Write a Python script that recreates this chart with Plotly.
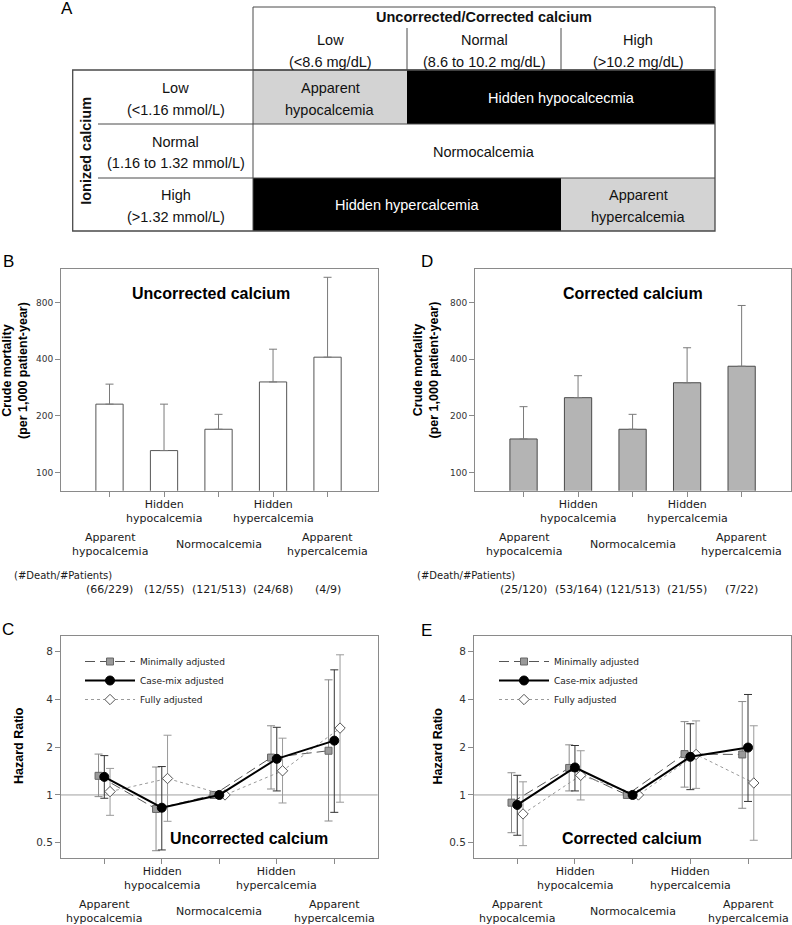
import plotly.graph_objects as go

W, H = 792, 925

# ---------------- data ----------------
CATEGORIES = ["Apparent hypocalcemia", "Hidden hypocalcemia", "Normocalcemia",
              "Hidden hypercalcemia", "Apparent hypercalcemia"]

# Panel B - uncorrected calcium: crude mortality (per 1,000 patient-year)
MORT_UNCORR = [231, 131, 170, 303, 410]
MORT_UNCORR_UPPER = [295, 231, 204, 452, 1088]
DEATHS_UNCORR = [66, 12, 121, 24, 4]
PATIENTS_UNCORR = [229, 55, 513, 68, 9]

# Panel D - corrected calcium
MORT_CORR = [151, 250, 170, 300, 367]
MORT_CORR_UPPER = [224, 327, 204, 460, 771]
DEATHS_CORR = [25, 53, 121, 21, 7]
PATIENTS_CORR = [120, 164, 513, 55, 22]

MORT_TICKS = [100, 200, 400, 800]

SERIES = ["Minimally adjusted", "Case-mix adjusted", "Fully adjusted"]

# Panel C - uncorrected calcium hazard ratios (None = reference group, no CI)
HR_MIN_UNCORR = [1.32, 0.816, 1.0, 1.72, 1.90]
HR_MIN_UNCORR_LO = [0.976, 0.445, None, 1.09, 0.685]
HR_MIN_UNCORR_HI = [1.81, 1.50, None, 2.73, 5.32]
HR_CASE_UNCORR = [1.30, 0.831, 1.0, 1.69, 2.20]
HR_CASE_UNCORR_LO = [0.953, 0.45, None, 1.06, 0.777]
HR_CASE_UNCORR_HI = [1.77, 1.51, None, 2.67, 6.15]
HR_FULL_UNCORR = [1.05, 1.27, 1.0, 1.42, 2.64]
HR_FULL_UNCORR_LO = [0.744, 0.682, None, 0.89, 0.90]
HR_FULL_UNCORR_HI = [1.47, 2.38, None, 2.28, 7.65]

# Panel E - corrected calcium hazard ratios
HR_MIN_CORR = [0.894, 1.48, 1.0, 1.81, 1.80]
HR_MIN_CORR_LO = [0.578, 1.06, None, 1.12, 0.824]
HR_MIN_CORR_HI = [1.38, 2.07, None, 2.90, 3.88]
HR_CASE_CORR = [0.865, 1.49, 1.0, 1.74, 1.99]
HR_CASE_CORR_LO = [0.557, 1.06, None, 1.08, 0.91]
HR_CASE_CORR_HI = [1.33, 2.05, None, 2.81, 4.30]
HR_FULL_CORR = [0.759, 1.33, 1.0, 1.80, 1.19]
HR_FULL_CORR_LO = [0.479, 0.93, None, 1.10, 0.518]
HR_FULL_CORR_HI = [1.21, 1.90, None, 2.93, 2.73]

HR_TICKS = [0.5, 1, 2, 4, 8]
HR_TICKTEXT = ["0.5", "1", "2", "4", "8"]
REF_HR = 1

# Panel A - classification table
TABLE_TITLE = "Uncorrected/Corrected calcium"
TABLE_COL_LEVELS = ["Low", "Normal", "High"]
TABLE_COL_RANGES = ["(&lt;8.6 mg/dL)", "(8.6 to 10.2 mg/dL)", "(&gt;10.2 mg/dL)"]
TABLE_ROW_TITLE = "Ionized calcium"
TABLE_ROW_LEVELS = ["Low", "Normal", "High"]
TABLE_ROW_RANGES = ["(&lt;1.16 mmol/L)", "(1.16 to 1.32 mmol/L)", "(&gt;1.32 mmol/L)"]
# (row, first col, last col exclusive, text, kind)
TABLE_CELLS = [
    (0, 0, 1, "Apparent<br>hypocalcemia", "apparent"),
    (0, 1, 3, "Hidden hypocalcecmia", "hidden"),
    (1, 0, 3, "Normocalcemia", "normal"),
    (2, 0, 2, "Hidden hypercalcemia", "hidden"),
    (2, 2, 3, "Apparent<br>hypercalcemia", "apparent"),
]

# ---------------- styles / layout geometry ----------------
CHART_FONT = "DejaVu Sans"
SANS = "Liberation Sans"
AXIS_GREY = "#8a8a8a"
TXT = "#1a1a1a"
OFFSETS = [-0.1, 0.0, 0.1]


def px_x(px):
    return px / W


def px_y(py):
    return 1 - py / H


# panel boxes in pixels: (x0, x1), (ytop, ybottom)
BOX = {
    "B": ((61, 377.7), (269.3, 490.7)),
    "D": ((475, 790.7), (269.3, 490.7)),
    "C": ((61, 377.7), (636, 857.5)),
    "E": ((474, 790.7), (636, 857.5)),
}
AXES = {"B": ("x", "y"), "D": ("x2", "y2"), "C": ("x3", "y3"), "E": ("x4", "y4")}
XRANGE = {"B": [-0.89, 4.92], "D": [-0.89, 4.90], "C": [-0.753, 4.755], "E": [-0.75, 4.74]}
MORT_RANGE = [1.9045, 3.079]
HR_RANGE = [-0.3944, 1.0022]

fig = go.Figure()

# ---------------- bar panels ----------------
idx = list(range(len(CATEGORIES)))
for key, vals, upper, fill, edge in [
    ("B", MORT_UNCORR, MORT_UNCORR_UPPER, "white", "#555555"),
    ("D", MORT_CORR, MORT_CORR_UPPER, "#b4b4b4", "#4a4a4a"),
]:
    xa, ya = AXES[key]
    fig.add_trace(go.Bar(
        x=idx, y=vals, width=0.5, xaxis=xa, yaxis=ya, showlegend=False,
        marker=dict(color=fill, line=dict(color=edge, width=1)),
        error_y=dict(type="data", symmetric=False,
                     array=[u - v for u, v in zip(upper, vals)],
                     arrayminus=[0] * len(vals),
                     color="#7a7a7a", thickness=1, width=4),
        hovertext=CATEGORIES,
    ))

# ---------------- hazard ratio panels ----------------
STYLE = [
    dict(line=dict(color="#555555", width=1, dash="10px,5px"),
         marker=dict(symbol="square", size=7, color="#9a9a9a", line=dict(color="#666666", width=1)),
         err="#8a8a8a", rank=1),
    dict(line=dict(color="black", width=2),
         marker=dict(symbol="circle", size=9, color="black", line=dict(color="black", width=1)),
         err="#333333", rank=2),
    dict(line=dict(color="#9a9a9a", width=1, dash="dot"),
         marker=dict(symbol="diamond", size=8, color="white", line=dict(color="#555555", width=1)),
         err="#9a9a9a", rank=3),
]


def err_plus(v, hi):
    return [None if h is None else h - x for x, h in zip(v, hi)]


def err_minus(v, lo):
    return [None if l is None else x - l for x, l in zip(v, lo)]


for key, legend_name, series in [
    ("C", "legend", [(HR_MIN_UNCORR, HR_MIN_UNCORR_LO, HR_MIN_UNCORR_HI),
                     (HR_CASE_UNCORR, HR_CASE_UNCORR_LO, HR_CASE_UNCORR_HI),
                     (HR_FULL_UNCORR, HR_FULL_UNCORR_LO, HR_FULL_UNCORR_HI)]),
    ("E", "legend2", [(HR_MIN_CORR, HR_MIN_CORR_LO, HR_MIN_CORR_HI),
                      (HR_CASE_CORR, HR_CASE_CORR_LO, HR_CASE_CORR_HI),
                      (HR_FULL_CORR, HR_FULL_CORR_LO, HR_FULL_CORR_HI)]),
]:
    xa, ya = AXES[key]
    for k in [0, 2, 1]:  # draw case-mix on top
        vals, lo, hi = series[k]
        st = STYLE[k]
        fig.add_trace(go.Scatter(
            x=[i + OFFSETS[k] for i in idx], y=vals, mode="lines+markers",
            name=SERIES[k], legend=legend_name, legendrank=st["rank"],
            xaxis=xa, yaxis=ya, line=st["line"], marker=st["marker"],
            error_y=dict(type="data", symmetric=False, array=err_plus(vals, hi),
                         arrayminus=err_minus(vals, lo), color=st["err"],
                         thickness=1, width=4),
            hovertext=CATEGORIES,
        ))

# ---------------- axes ----------------
layout_axes = {}
for key, (xa, ya) in AXES.items():
    (x0, x1), (yt, yb) = BOX[key]
    xname = "xaxis" if xa == "x" else "xaxis" + xa[1:]
    yname = "yaxis" if ya == "y" else "yaxis" + ya[1:]
    layout_axes[xname] = dict(
        domain=[px_x(x0), px_x(x1)], range=XRANGE[key], anchor=ya,
        tickmode="array", tickvals=idx, showticklabels=False,
        ticks="outside", ticklen=5, tickcolor=AXIS_GREY,
        showline=True, linecolor=AXIS_GREY, linewidth=1, mirror=True,
        showgrid=False, zeroline=False, automargin=False, fixedrange=True)
    is_bar = key in ("B", "D")
    layout_axes[yname] = dict(
        domain=[px_y(yb), px_y(yt)], type="log", anchor=xa,
        range=MORT_RANGE if is_bar else HR_RANGE,
        tickmode="array", tickvals=MORT_TICKS if is_bar else HR_TICKS,
        ticktext=[str(t) for t in MORT_TICKS] if is_bar else HR_TICKTEXT,
        tickfont=dict(family=CHART_FONT, size=9 if is_bar else 10.5, color="#333"),
        ticks="outside", ticklen=5, tickcolor=AXIS_GREY,
        showline=True, linecolor=AXIS_GREY, linewidth=1, mirror=True,
        showgrid=False, zeroline=False, automargin=False, fixedrange=True)

shapes = []
annotations = []

# reference line HR = 1
for key in ("C", "E"):
    xa, ya = AXES[key]
    shapes.append(dict(type="line", xref=f"{xa} domain", x0=0, x1=1, yref=ya,
                       y0=REF_HR, y1=REF_HR, line=dict(color="#a0a0a0", width=1), layer="below"))

# category labels (staggered) and counts
for key in ("B", "D", "C", "E"):
    xa, ya = AXES[key]
    for i, cat in enumerate(CATEGORIES):
        shift = 21 if i % 2 == 1 else 54
        annotations.append(dict(
            text=cat.replace(" ", "<br>"), xref=xa, x=i, yref=f"{ya} domain", y=0,
            yshift=-shift, yanchor="middle", xanchor="center", showarrow=False,
            font=dict(family=CHART_FONT, size=11, color=TXT)))

for key, deaths, patients in [("B", DEATHS_UNCORR, PATIENTS_UNCORR), ("D", DEATHS_CORR, PATIENTS_CORR)]:
    xa, ya = AXES[key]
    for i, (d, p) in enumerate(zip(deaths, patients)):
        annotations.append(dict(
            text=f"({d}/{p})", xref=xa, x=i, yref=f"{ya} domain", y=0, yshift=-98.5,
            yanchor="middle", xanchor="center", showarrow=False,
            font=dict(family=CHART_FONT, size=11, color=TXT)))

for xpx in (12, 415):
    annotations.append(dict(text="(#Death/#Patients)", xref="paper", x=px_x(xpx), xanchor="left",
                            yref="paper", y=px_y(575), yanchor="middle", showarrow=False,
                            font=dict(family=CHART_FONT, size=10, color=TXT)))

# panel titles inside the plots
for key, text, xd, yd in [("B", "Uncorrected calcium", 0.473, 0.892),
                          ("D", "Corrected calcium", 0.499, 0.892),
                          ("C", "Uncorrected calcium", 0.594, 0.087),
                          ("E", "Corrected calcium", 0.5, 0.087)]:
    xa, ya = AXES[key]
    annotations.append(dict(text=f"<b>{text}</b>", xref=f"{xa} domain", x=xd, yref=f"{ya} domain", y=yd,
                            xanchor="center", yanchor="middle", showarrow=False,
                            font=dict(family=SANS, size=16, color="black")))

# y axis titles
for xpx, ypx, text in [(14.5, 370.5, "Crude mortality<br>(per 1,000 patient-year)"),
                       (425, 370.5, "Crude mortality<br>(per 1,000 patient-year)"),
                       (19, 746, "Hazard Ratio"),
                       (437.5, 746, "Hazard Ratio")]:
    annotations.append(dict(text=text, xref="paper", x=px_x(xpx), yref="paper", y=px_y(ypx),
                            xanchor="center", yanchor="middle", textangle=-90, showarrow=False,
                            font=dict(family=SANS, size=12.5, color="black", weight="bold")))

# panel letters
for letter, xpx, ypx in [("A", 67, 8), ("B", 8, 261), ("D", 427, 261), ("C", 8, 629), ("E", 426, 630)]:
    annotations.append(dict(text=letter, xref="paper", x=px_x(xpx), yref="paper", y=px_y(ypx),
                            xanchor="center", yanchor="middle", showarrow=False,
                            font=dict(family=SANS, size=17, color="black")))

# ---------------- panel A table ----------------
COL_EDGES = [253, 407, 561, 715]
ROW_EDGES = [70, 124, 178, 231]
HEADER_TOP, HEADER_SPLIT = 7, 28
LABEL_LEFT, LABEL_RIGHT = 72.7, 98
LINE_GAP = 11
TFONT = 14.5
FILL = {"apparent": "#d3d3d3", "hidden": "black", "normal": "white"}
TEXTC = {"apparent": "#111", "hidden": "white", "normal": "#111"}
EDGE = "#4a4a4a"


def rect(x0, y0, x1, y1, fill=None, width=1):
    return dict(type="rect", xref="paper", yref="paper", x0=px_x(x0), x1=px_x(x1),
                y0=px_y(y1), y1=px_y(y0), fillcolor=fill if fill else "rgba(0,0,0,0)",
                line=dict(color=EDGE, width=width))


def hline(x0, x1, y):
    return dict(type="line", xref="paper", yref="paper", x0=px_x(x0), x1=px_x(x1),
                y0=px_y(y), y1=px_y(y), line=dict(color=EDGE, width=1))


def vline(x, y0, y1):
    return dict(type="line", xref="paper", yref="paper", x0=px_x(x), x1=px_x(x),
                y0=px_y(y0), y1=px_y(y1), line=dict(color=EDGE, width=1))


def cell_text(lines, xc, yc, color="#111", bold=False):
    n = len(lines)
    for j, ln in enumerate(lines):
        yy = yc + (j - (n - 1) / 2) * 2 * LINE_GAP if n > 1 else yc
        annotations.append(dict(text=f"<b>{ln}</b>" if bold else ln, xref="paper", yref="paper",
                                x=px_x(xc), y=px_y(yy), xanchor="center", yanchor="middle",
                                showarrow=False, font=dict(family=SANS, size=TFONT, color=color)))


for (r, c0, c1, text, kind) in TABLE_CELLS:
    shapes.append(rect(COL_EDGES[c0], ROW_EDGES[r], COL_EDGES[c1], ROW_EDGES[r + 1],
                       fill=FILL[kind], width=0))
    cy = (ROW_EDGES[r] + ROW_EDGES[r + 1]) / 2 + (1.5 if "<br>" in text else 0.5)
    cell_text(text.split("<br>"), (COL_EDGES[c0] + COL_EDGES[c1]) / 2, cy, TEXTC[kind])

shapes.append(rect(COL_EDGES[0], HEADER_TOP, COL_EDGES[-1], ROW_EDGES[0]))
for x in COL_EDGES[1:-1]:
    shapes.append(vline(x, HEADER_SPLIT, ROW_EDGES[0]))
shapes.append(rect(LABEL_LEFT, ROW_EDGES[0], COL_EDGES[-1], ROW_EDGES[-1], width=1.3))
for y in ROW_EDGES[1:-1]:
    shapes.append(hline(LABEL_RIGHT, COL_EDGES[-1], y))
shapes.append(vline(COL_EDGES[0], ROW_EDGES[0], ROW_EDGES[-1]))

cell_text([TABLE_TITLE], (COL_EDGES[0] + COL_EDGES[-1]) / 2, 17, bold=True)
for j in range(3):
    cell_text([TABLE_COL_LEVELS[j], TABLE_COL_RANGES[j]],
              (COL_EDGES[j] + COL_EDGES[j + 1]) / 2, (HEADER_SPLIT + ROW_EDGES[0]) / 2 + 2)
    cell_text([TABLE_ROW_LEVELS[j], TABLE_ROW_RANGES[j]],
              (LABEL_RIGHT + COL_EDGES[0]) / 2, (ROW_EDGES[j] + ROW_EDGES[j + 1]) / 2 + 1.5)
annotations.append(dict(text=f"<b>{TABLE_ROW_TITLE}</b>", xref="paper", yref="paper",
                        x=px_x((LABEL_LEFT + LABEL_RIGHT) / 2), y=px_y((ROW_EDGES[0] + ROW_EDGES[-1]) / 2),
                        xanchor="center", yanchor="middle", textangle=-90, showarrow=False,
                        font=dict(family=SANS, size=TFONT, color="#111")))

LEG = dict(yanchor="top", xanchor="left", bgcolor="rgba(0,0,0,0)", borderwidth=0,
           font=dict(family=CHART_FONT, size=9, color="#222"), itemwidth=50,
           tracegroupgap=0, traceorder="normal")

fig.update_layout(
    width=W, height=H, template="none",
    margin=dict(l=0, r=0, t=0, b=0, autoexpand=False),
    paper_bgcolor="white", plot_bgcolor="white",
    font=dict(family=CHART_FONT, size=11, color=TXT),
    bargap=0.5,
    legend=dict(x=px_x(80), y=px_y(647), **LEG),
    legend2=dict(x=px_x(494), y=px_y(647), **LEG),
    shapes=shapes, annotations=annotations,
    **layout_axes,
)

fig.write_html("out.html", config={"displayModeBar": False},
               post_script="document.body.style.margin='0';document.body.style.overflow='hidden';")
